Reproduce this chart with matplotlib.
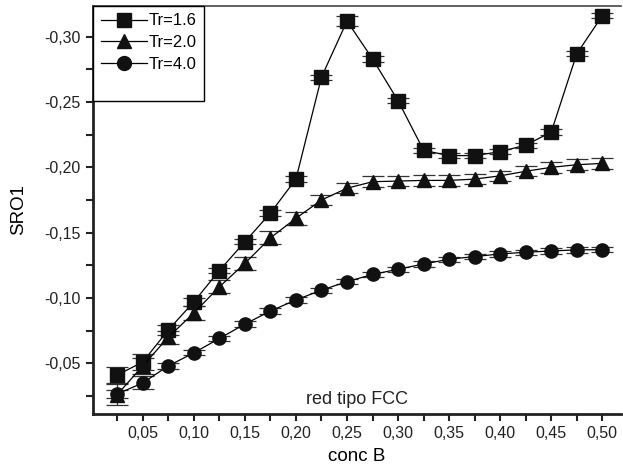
import matplotlib
matplotlib.use("Agg")
import matplotlib.pyplot as plt
from matplotlib.lines import Line2D
from matplotlib.ticker import MultipleLocator, FuncFormatter

plt.rcParams['font.family'] = ['Liberation Sans', 'DejaVu Sans']

# concentracion de B
conc = [0.025, 0.05, 0.075, 0.10, 0.125, 0.15, 0.175, 0.20, 0.225, 0.25,
        0.275, 0.30, 0.325, 0.35, 0.375, 0.40, 0.425, 0.45, 0.475, 0.50]

# SRO1 para cada temperatura reducida
sro_16 = [-0.041, -0.051, -0.0755, -0.097, -0.121, -0.143, -0.165, -0.191, -0.269, -0.312,
          -0.283, -0.251, -0.213, -0.209, -0.209, -0.212, -0.217, -0.227, -0.287, -0.316]
sro_20 = [-0.026, -0.048, -0.070, -0.0885, -0.1085, -0.1265, -0.146, -0.161, -0.175, -0.184,
          -0.189, -0.1895, -0.190, -0.190, -0.191, -0.1935, -0.197, -0.200, -0.202, -0.203]
sro_40 = [-0.0265, -0.035, -0.048, -0.058, -0.069, -0.080, -0.090, -0.0985, -0.106, -0.1125,
          -0.118, -0.122, -0.126, -0.1297, -0.1317, -0.1337, -0.135, -0.136, -0.1368, -0.137]

# errores
err_16 = [0.006, 0.006, 0.004, 0.003, 0.002, 0.002, 0.002, 0.002, 0.002, 0.004,
          0.002, 0.002, 0.002, 0.002, 0.002, 0.002, 0.002, 0.002, 0.002, 0.002]
err_20 = [0.008, 0.006, 0.005, 0.005, 0.005, 0.005, 0.005, 0.005, 0.004, 0.004,
          0.004, 0.004, 0.004, 0.004, 0.004, 0.004, 0.004, 0.004, 0.004, 0.004]
err_40 = [0.003, 0.005, 0.002, 0.002, 0.002, 0.002, 0.002, 0.002, 0.002, 0.002,
          0.002, 0.002, 0.002, 0.002, 0.002, 0.002, 0.002, 0.002, 0.002, 0.002]

fig = plt.figure(figsize=(6.23, 4.72), dpi=100)
ax = fig.add_axes([0.1493, 0.1229, 0.8475, 0.8644])

series = [(sro_16, err_16, 's', 'Tr=1.6'),
          (sro_20, err_20, '^', 'Tr=2.0'),
          (sro_40, err_40, 'o', 'Tr=4.0')]
handles = []
for y, e, m, lab in series:
    ax.errorbar(conc, y, yerr=e, fmt='-', color='black', lw=0.9,
                marker=m, ms=9.5 if m != '^' else 10, mfc='#111111', mec='#111111',
                ecolor='#333333', elinewidth=0.9, capsize=8, capthick=0.9, zorder=3)
    handles.append(Line2D([], [], color='black', lw=0.9, marker=m, ms=10,
                          mfc='#111111', mec='#111111', label=lab))
# fila vacia para el espacio extra del cuadro
handles.append(Line2D([], [], color='none', label=' '))

ax.set_xlim(0.0013, 0.5183)
ax.set_ylim(-0.0112, -0.3235)

ax.xaxis.set_major_locator(MultipleLocator(0.05))
ax.xaxis.set_minor_locator(MultipleLocator(0.025))
ax.yaxis.set_major_locator(MultipleLocator(0.05))
ax.yaxis.set_minor_locator(MultipleLocator(0.025))
coma = FuncFormatter(lambda v, p: ('%.2f' % v).replace('.', ','))
ax.xaxis.set_major_formatter(coma)
ax.yaxis.set_major_formatter(coma)

ax.tick_params(which='both', direction='out', width=1.5, labelsize=11.5, colors='#222222')
ax.tick_params(which='major', length=5, pad=4)
ax.tick_params(which='minor', length=5)

for s in ['left', 'bottom']:
    ax.spines[s].set_linewidth(2)
    ax.spines[s].set_color('#222222')
ax.spines['top'].set_linewidth(1.2)
ax.spines['top'].set_color('#444444')
ax.spines['right'].set_visible(False)

ax.set_xlabel('conc B', fontsize=13.5, labelpad=5)
ax.set_ylabel('SRO1', fontsize=13.5, labelpad=12)
ax.text(0.5, 0.025, 'red tipo FCC', transform=ax.transAxes, ha='center',
        fontsize=13, color='#222222')

leg = ax.legend(handles=handles, loc='upper left', bbox_to_anchor=(0, 1),
                borderaxespad=0, fancybox=False, framealpha=1, edgecolor='black',
                fontsize=12, handlelength=2.8, handletextpad=0.1,
                labelspacing=0.4, borderpad=0.45)
leg.get_frame().set_linewidth(1)

fig.savefig('out.png', dpi=100)
